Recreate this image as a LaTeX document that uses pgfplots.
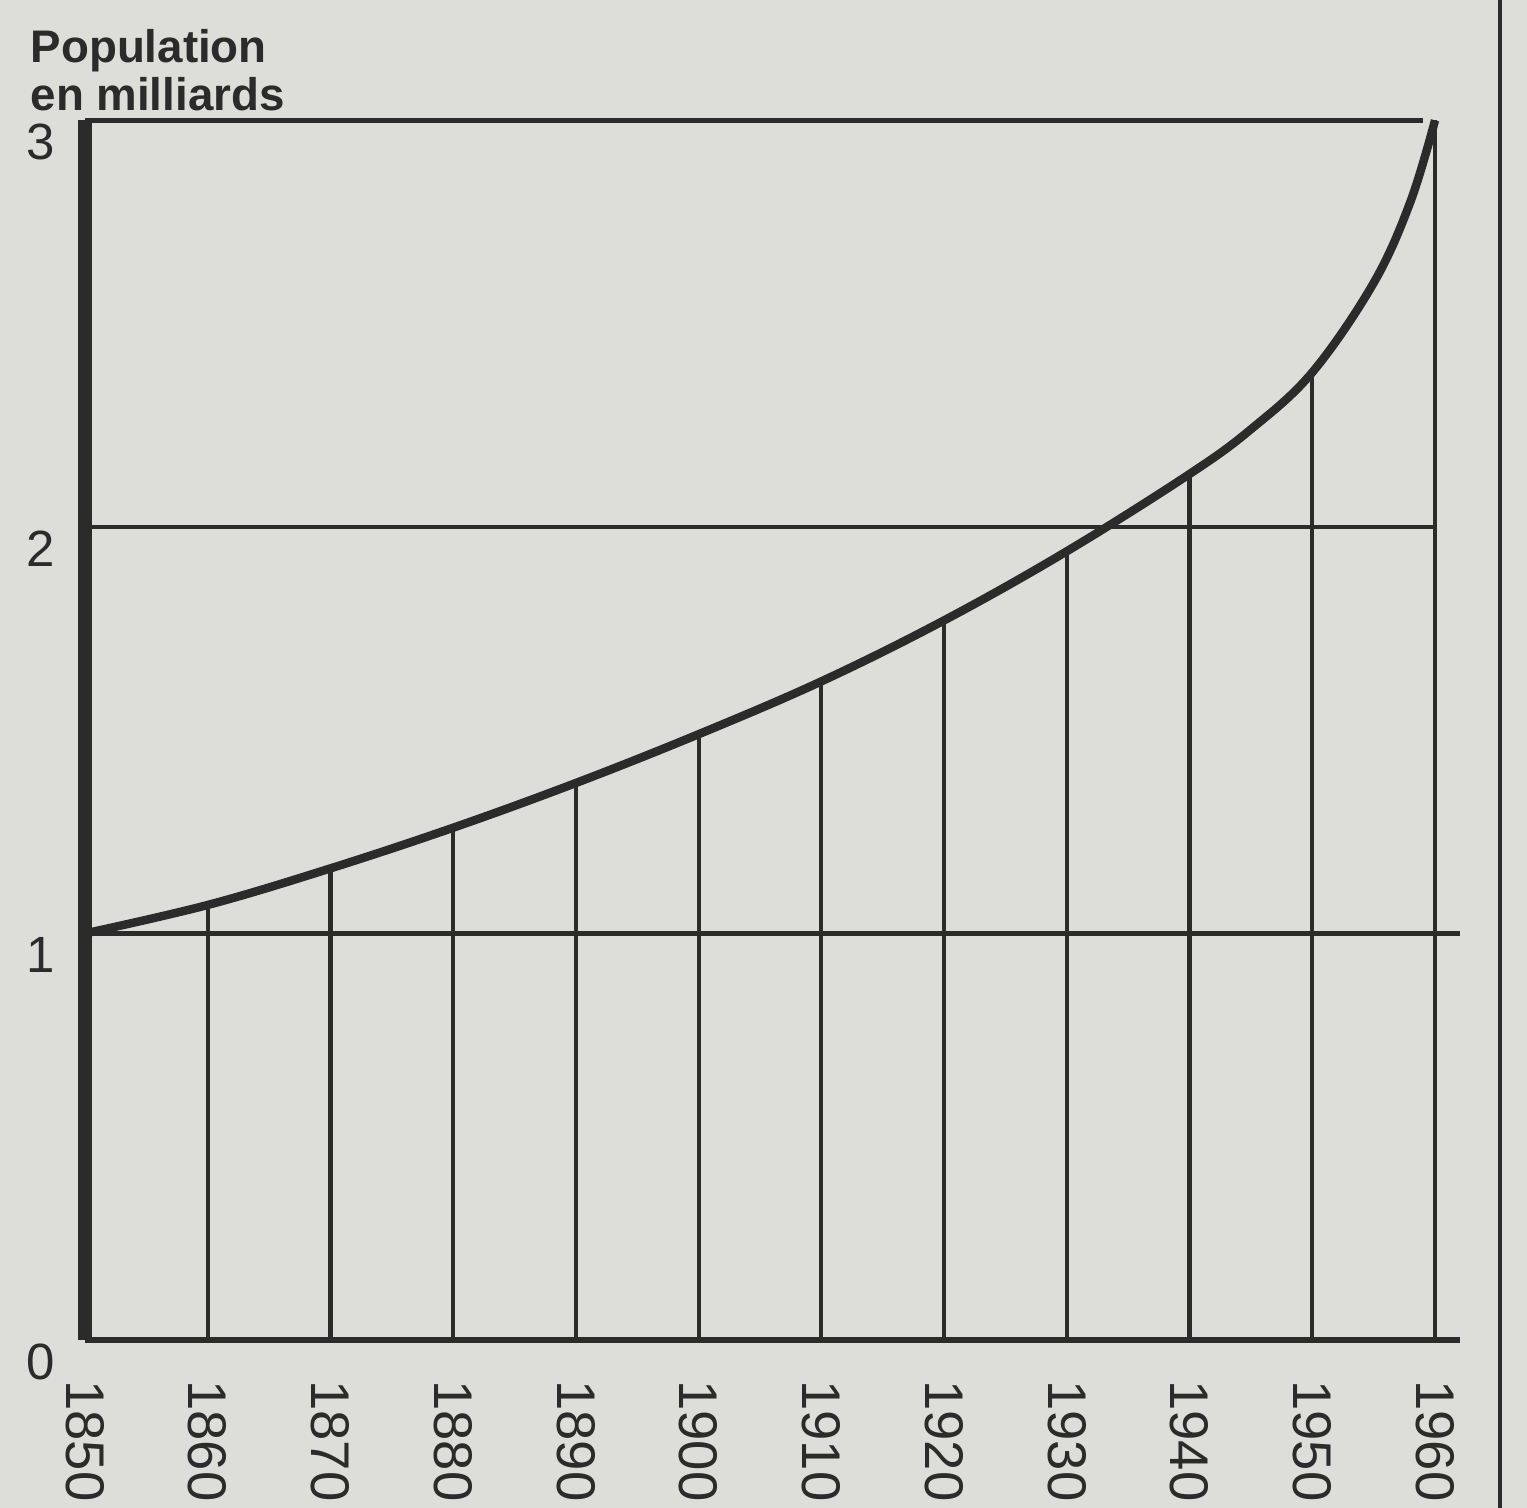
\documentclass[border=0pt]{standalone}
\usepackage{pgfplots}
\pgfplotsset{compat=1.18}
\usepackage{pgfplotstable}
\usepackage{fontspec}
\setmainfont{Liberation Sans}
\definecolor{paper}{HTML}{DDDDDA}
\definecolor{ink}{HTML}{2B2B2B}
\pgfplotstableread{
year pop
1850 1.00
1860 1.07
1870 1.16
1880 1.26
1890 1.37
1900 1.49
1910 1.62
1920 1.77
1930 1.94
1940 2.13
1945 2.24
1950 2.38
1955 2.60
1958 2.80
1960 3.00
}\curvedata
\pgfplotstableread{
year pop
1850 1.00
1860 1.07
1870 1.16
1880 1.26
1890 1.37
1900 1.49
1910 1.62
1920 1.77
1930 1.94
1940 2.13
1950 2.38
1960 3.00
}\decades
\begin{document}
\begin{tikzpicture}
\path[use as bounding box, fill=paper] (-0.85,-1.68) rectangle (14.42,13.40);
\begin{axis}[
  scale only axis, width=13.5cm, height=12.4cm,
  xmin=1850, xmax=1960, ymin=0, ymax=3.05,
  axis lines*=left,
  axis line style={draw=none},
  tick style={draw=none},
  xtick={1850,1860,...,1960}, ytick={0,1,2,3},
  clip=false,
  /pgf/number format/assume math mode=true,
  xticklabel={\pgfmathprintnumber[1000 sep={}]{\tick}},
  xticklabel style={rotate=-90, anchor=west, font=\fontsize{15.5}{16}\selectfont, text=ink},
  xticklabel shift=0.28cm,
  yticklabel style={font=\fontsize{14.5}{15}\selectfont, text=ink, yshift=-0.22cm},
  yticklabel shift=0.18cm,
]
\addplot[ycomb, no marks, ink, line width=1.2pt] table[x=year, y=pop] {\decades};
\addplot[no marks, ink, line width=1.2pt] coordinates {(1850,1) (1962,1)};
\addplot[no marks, ink, line width=1.2pt] coordinates {(1850,2) (1960,2)};
\addplot[no marks, ink, line width=1.3pt] coordinates {(1850,3) (1959,3)};
\addplot[no marks, ink, line width=1.6pt] coordinates {(1850,0) (1962,0)};
\addplot[no marks, ink, line width=3.8pt] coordinates {(1850,0) (1850,3)};
\addplot[no marks, ink, line width=2.4pt, smooth, tension=0.6] table[x=year, y=pop] {\curvedata};
\node[anchor=south west, inner sep=0, xshift=-0.55cm, yshift=-0.12cm, align=left,
      font=\fontsize{13}{13.8}\selectfont\bfseries, text=ink]
  at (axis cs:1850,3.05) {Population\\en milliards};
\end{axis}
\draw[ink, line width=1.2pt] (14.15,-1.68) -- (14.15,13.40);
\end{tikzpicture}
\end{document}
